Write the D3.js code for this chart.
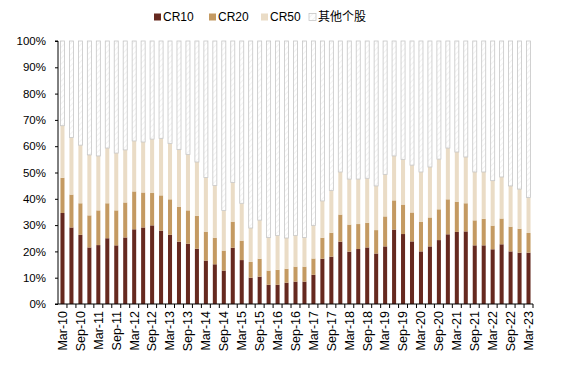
<!DOCTYPE html>
<html>
<head>
<meta charset="utf-8">
<script src="https://cdn.jsdelivr.net/npm/d3@7"></script>
<style>
  html, body { margin: 0; padding: 0; background: #fff; }
  svg { display: block; font-family: "Liberation Sans", Arial, sans-serif; }
</style>
</head>
<body>
<svg id="chart" width="562" height="370"></svg>
<script>
// ---- Data ----
const quarters = [];
const years = d3.range(10, 24);
const months = ["Mar", "Jun", "Sep", "Dec"];
years.forEach(yy => months.forEach(m => { if (!(yy === 23 && m !== "Mar")) quarters.push(m + "-" + yy); }));

const cr10 = [34.6,29.1,26.3,21.5,22.4,25.0,22.3,25.3,28.4,29.1,29.9,27.9,26.3,23.7,22.9,21.0,
              16.5,15.1,12.7,21.4,16.7,10.0,10.4,7.3,7.3,8.1,8.5,8.5,11.1,17.2,18.0,23.7,
              19.9,20.9,21.5,19.2,21.9,28.3,26.6,23.8,20.0,21.9,24.3,26.5,27.4,27.6,22.3,22.3,
              20.8,22.7,20.0,19.5,19.5];
const cr20 = [48.0,41.6,38.3,33.7,35.6,38.3,35.6,38.6,42.8,42.4,42.2,41.3,39.8,37.0,35.6,33.5,
              27.5,25.2,20.3,31.3,24.1,16.0,17.2,12.7,13.0,13.4,14.2,14.2,17.3,25.2,27.1,34.0,
              30.2,30.4,30.9,28.1,33.3,39.4,37.8,34.8,31.3,32.9,36.0,39.8,38.9,38.3,31.8,32.4,
              29.8,32.5,29.4,28.6,27.0];
const cr50 = [67.8,63.3,60.4,56.7,56.3,59.3,57.4,58.6,62.0,61.6,62.7,63.0,61.0,58.7,56.9,54.0,
              48.1,45.1,35.6,46.2,38.3,28.9,31.9,25.3,26.1,25.1,26.1,25.3,29.9,39.2,43.2,50.2,
              47.5,47.5,47.8,44.9,49.3,56.3,55.0,52.8,50.2,52.1,55.1,59.3,57.8,55.9,50.2,50.2,
              46.9,48.3,44.9,43.7,40.5];
const seriesNames = ["CR10", "CR20", "CR50", "其他个股"];
const seriesColors = ["#66291f", "#c49a62", "#eadcc6", "#ffffff"];
const yTicks = d3.range(0, 101, 10);
const xLabels = quarters.filter((q, i) => i % 2 === 0);

// ---- Layout ----
const svg = d3.select("#chart");
const margin = { left: 58, right: 29, top: 41, bottom: 66 };
const W = 562, H = 370;

const defs = svg.append("defs");
const pat = defs.append("pattern").attr("id", "hatch").attr("patternUnits", "userSpaceOnUse")
  .attr("width", 4).attr("height", 4).attr("patternTransform", "rotate(45)");
pat.append("rect").attr("width", 4).attr("height", 4).attr("fill", "#fff");
pat.append("line").attr("x1", 0).attr("y1", 0).attr("x2", 0).attr("y2", 4)
  .attr("stroke", "#ececec").attr("stroke-width", 1.2);

const x = d3.scaleBand().domain(quarters)
  .range([margin.left, W - margin.right])
  .paddingInner(0.55).paddingOuter(0.275);
const y = d3.scaleLinear().domain([0, 100]).range([H - margin.bottom, margin.top]);

// stacked segments
const rows = quarters.map((q, i) => ({
  q,
  segs: [[0, cr10[i]], [cr10[i], cr20[i]], [cr20[i], cr50[i]], [cr50[i], 100]]
}));

const g = svg.append("g");
rows.forEach(r => {
  r.segs.forEach((s, k) => {
    const rect = g.append("rect")
      .attr("x", x(r.q))
      .attr("width", x.bandwidth())
      .attr("y", y(s[1]))
      .attr("height", y(s[0]) - y(s[1]));
    if (k === 3) {
      rect.attr("fill", "url(#hatch)").attr("stroke", "#c6c6c6").attr("stroke-width", 0.8);
    } else {
      rect.attr("fill", seriesColors[k]);
    }
  });
});

// Y axis
const yAxis = d3.axisLeft(y).tickValues(yTicks).tickFormat(d => d + "%").tickSize(3).tickPadding(9);
const yg = svg.append("g").attr("transform", `translate(${margin.left},0)`).call(yAxis);
yg.select(".domain").attr("stroke", "#000").attr("d", `M-3,${y(100)}H0V${y(0)}H-3`);
yg.selectAll(".tick line").attr("stroke", "#000");
yg.selectAll("text").attr("font-size", "11.5px").attr("fill", "#000")
  .attr("font-family", "'Liberation Sans', Arial, sans-serif");

// X axis baseline and ticks at band boundaries
const step = x.step();
const xg = svg.append("g");
xg.append("line").attr("x1", margin.left).attr("x2", W - margin.right)
  .attr("y1", y(0)).attr("y2", y(0)).attr("stroke", "#000");
quarters.forEach(q => {
  const bx = x(q) + x.bandwidth() / 2 + step / 2;
  xg.append("line").attr("x1", bx).attr("x2", bx).attr("y1", y(0)).attr("y2", y(0) + 4).attr("stroke", "#000");
});

// X labels
const xAxis = d3.axisBottom(x).tickValues(xLabels).tickSize(0).tickPadding(0);
const xl = svg.append("g").attr("transform", `translate(0,${y(0)})`).call(xAxis);
xl.select(".domain").remove();
xl.selectAll("text")
  .attr("font-size", "12.5px").attr("fill", "#000")
  .attr("font-family", "'Liberation Sans', Arial, sans-serif")
  .attr("text-anchor", "end")
  .attr("transform", "rotate(-90)")
  .attr("x", -7).attr("y", 0).attr("dy", "0.35em");

// Legend
const legendX = [154, 209, 261, 309];
const lg = svg.append("g");
seriesNames.forEach((n, k) => {
  const it = lg.append("g").attr("transform", `translate(${legendX[k]},17)`);
  const sq = it.append("rect").attr("x", 0).attr("y", -3.5).attr("width", 7).attr("height", 7)
    .attr("fill", k === 3 ? "url(#hatch)" : seriesColors[k]);
  if (k === 3) sq.attr("stroke", "#c6c6c6").attr("stroke-width", 0.8);
  it.append("text").attr("x", 9).attr("y", 0).attr("dy", "0.36em")
    .attr("font-size", "12px").attr("fill", "#000")
    .attr("font-family", k === 3 ? "'Noto Sans CJK SC', sans-serif" : "'Liberation Sans', Arial, sans-serif")
    .text(n);
});
</script>
</body>
</html>
